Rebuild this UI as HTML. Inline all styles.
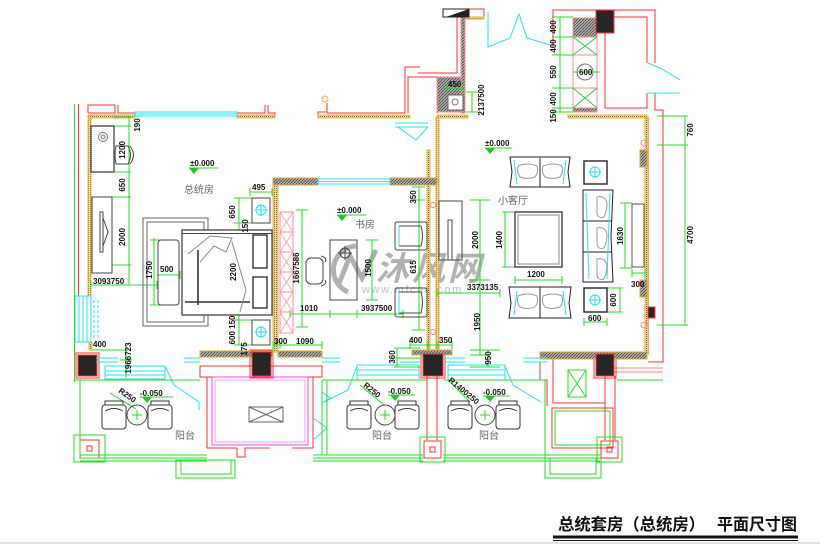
<!DOCTYPE html>
<html><head><meta charset="utf-8"><style>
html,body{margin:0;padding:0;background:#fff;width:820px;height:544px;overflow:hidden}
svg{display:block}
text{font-family:"Liberation Sans","Noto Sans CJK SC",sans-serif}
.d{font-size:8px;font-weight:bold;fill:#111}
.n{font-size:10px;fill:#666}
</style></head><body>
<svg width="820" height="544" viewBox="0 0 820 544" xmlns="http://www.w3.org/2000/svg">
<defs>
<pattern id="h" width="2" height="2" patternUnits="userSpaceOnUse"><rect width="2" height="2" fill="#ecd9a0"/><rect width="1" height="1" fill="#7a6a3a"/></pattern>
<pattern id="g" width="3" height="3" patternUnits="userSpaceOnUse"><rect width="3" height="3" fill="#b0b0b0"/><path d="M0,3L3,0" stroke="#333" stroke-width=".7"/></pattern>
</defs>
<rect x="0" y="542" width="820" height="2" fill="#e2e2e2"/>

<!-- watermark -->
<g opacity="0.75">
<path d="M348,292 A24,24 0 0 1 356,246" stroke="#999" stroke-width="5" fill="none"/>
<path d="M338,286 L350,256 L362,278 L376,250" stroke="#999" stroke-width="5" fill="none"/>
<text x="376" y="280" font-size="33" font-weight="bold" font-style="italic" fill="#999" letter-spacing="3">沐风网</text>
<text x="362" y="293" font-size="11" fill="#aaa" letter-spacing="1.6">www.mfcad.com</text>
</g>

<g fill="none" stroke-width="1">
<!-- ===== RED WALL LINES ===== -->
<g stroke="#ff3030">
<path d="M88,113V105H115V113H88M118,105V113H135M237,113H265V105M268,105V113H275V118"/>
<line x1="78.5" y1="104" x2="78.5" y2="296"/>
<path d="M318,118V112H327V103M327,113H405V67H420M408,113V77H437V113"/>
<path d="M418,73H457V17M463,17H484V9H469"/>
<path d="M553,47V10H655V63M655,93V110H663V362H648"/>
<path d="M614,17H647V63M647,93V108H605V33"/>
<path d="M553,17H573"/>
<path d="M614,368H663M614,372H663" stroke="#ff8080"/>
<line x1="648.5" y1="117" x2="648.5" y2="355" stroke="#ff9a9a"/>
<!-- balcony / storage -->
<path d="M427,376V440M437,376V440"/>
<rect x="553" y="358" width="52" height="45"/>
<rect x="552" y="408" width="61" height="40"/>
<path d="M540,362V380H547V406M605,376V440M615,376V440"/>
<rect x="200" y="366" width="122" height="11"/>
<path d="M207,377V448H237V457H245V448H270M292,448H313V377"/>
<rect x="80" y="440" width="19" height="18"/><rect x="87" y="446" width="5" height="5"/>
<rect x="424" y="441" width="17" height="17"/><rect x="430" y="447" width="5" height="5"/>
<rect x="601" y="441" width="17" height="17"/><rect x="607" y="447" width="5" height="5"/>
<rect x="76" y="353" width="23" height="25"/>
<rect x="250" y="350" width="23" height="28"/>
<rect x="421" y="352" width="24" height="26"/>
<rect x="594" y="352" width="22" height="26"/>
</g>
<rect x="212" y="377" width="96" height="68" stroke="#ff40ff"/>
<rect x="215" y="380" width="90" height="62" stroke="#ff9aff"/>

<!-- ===== YELLOW HATCHED WALLS ===== -->
<g stroke="#f0b030" fill="url(#h)">
<rect x="88" y="115" width="47" height="3"/>
<rect x="237" y="115" width="38" height="3"/>
<rect x="88" y="115" width="3" height="181"/>
<rect x="89" y="342" width="3" height="8"/>
<rect x="273" y="178" width="5" height="174"/>
<rect x="427" y="150" width="3" height="202"/>
<rect x="436" y="117" width="3" height="235"/>
<rect x="437" y="115" width="31" height="3"/>
<rect x="568" y="115" width="79" height="3"/>
<rect x="645" y="117" width="3" height="236"/>
<rect x="318" y="115" width="92" height="3"/>
<rect x="463" y="17" width="21" height="2"/>
</g>
<!-- gray hatched walls -->
<g stroke="#e0a830" fill="url(#g)">
<rect x="273" y="178" width="45" height="7"/>
<rect x="390" y="178" width="47" height="7"/>
<rect x="200" y="351" width="73" height="6"/>
<rect x="278" y="351" width="44" height="6"/>
<rect x="412" y="350" width="40" height="5"/>
<rect x="540" y="352" width="107" height="7"/>
<rect x="640" y="150" width="7" height="17"/>
<rect x="640" y="280" width="7" height="17"/>
</g>
<g stroke="#f88" fill="url(#g)">
<rect x="437" y="77" width="26" height="35"/>
<rect x="461" y="17" width="4" height="96"/>
<rect x="573" y="18" width="24" height="19"/>
<rect x="573" y="108" width="24" height="4"/>
</g>
<rect x="448" y="95" width="15" height="15" fill="#fff" stroke="#666"/>
<circle cx="455" cy="102" r="3" stroke="#777"/>

<!-- black columns -->
<g fill="#262626" stroke="#ff3030">
<rect x="78" y="355" width="19" height="21"/>
<rect x="252" y="352" width="19" height="24"/>
<rect x="423" y="354" width="20" height="22"/>
<rect x="596" y="354" width="18" height="22"/>
<rect x="596" y="10" width="18" height="23"/>
<rect x="648" y="307" width="7" height="11"/>
</g>
<rect x="443" y="9" width="26" height="8" fill="#fff" stroke="#222"/>
<polygon points="446,17 469,9 469,17" fill="#222"/>

<!-- kitchen cabinet column -->
<g stroke="#f88">
<rect x="573" y="37" width="24" height="71"/>
<line x1="573" y1="55" x2="597" y2="55"/><line x1="573" y1="88" x2="597" y2="88"/>
</g>
<g stroke="#3c3">
<path d="M573,37L597,55M597,37L573,55M573,88L597,108M597,88L573,108"/>
</g>
<circle cx="585" cy="72" r="8" stroke="#777"/>

<!-- ===== CYAN ===== -->
<g stroke="#25e3ef">
<rect x="135" y="112" width="102" height="4"/><line x1="135" y1="114" x2="237" y2="114"/>
<rect x="318" y="179" width="72" height="5"/><line x1="318" y1="181.5" x2="390" y2="181.5"/>
<rect x="75" y="296" width="16" height="46"/>
<path d="M79,296V342M83,296V342M87,296V342"/>
<path d="M94,300V340M98,300V340" stroke-dasharray="3,2"/>
<rect x="105" y="366" width="60" height="13"/><path d="M105,371H165M105,375H165"/>
<rect x="357" y="365" width="62" height="15"/><path d="M357,370H419M357,375H419"/>
<rect x="448" y="365" width="57" height="15"/><path d="M448,370H505M448,375H505"/>
<path d="M165,366L174,385L199,402V410"/>
<path d="M357,366L348,390L324,402"/>
<path d="M505,366L513,385L541,402"/>
<path d="M96,358H118M96,362H118M184,358H200M184,362H200M322,358H340M322,362H340M400,358H421M400,362H421M445,358H465M445,362H465M523,358H547M523,362H547"/>
<path d="M488,12V47L510,38L519,14L527,38L553,46"/>
<path d="M648,63L662,69L680,80M648,93H680"/>
<path d="M395,123H428M395,127H428M398,127L416,140L428,127"/>
<path d="M313,418L327,428L313,440"/>
<path d="M322,392L330,398L322,403" />
</g>

<!-- ===== GREEN (balcony outlines) ===== -->
<g stroke="#22e022">
<line x1="74.5" y1="104" x2="74.5" y2="382"/>
<path d="M74,380H200M322,380H427M443,380H545M617,380H663"/>
<path d="M80,380V455M322,380V455M327,380V455M545,380V460"/>
<path d="M80,455H207M80,458H207M80,461H207M313,455H423M313,458H423M313,461H423M443,455H600M443,458H600M443,461H600"/>
<rect x="176" y="460" width="59" height="18"/><rect x="181" y="460" width="50" height="14"/>
<rect x="545" y="458" width="56" height="20"/><rect x="550" y="458" width="46" height="16"/>
<rect x="74" y="435" width="31" height="27"/>
<rect x="420" y="437" width="25" height="25"/>
<rect x="597" y="437" width="25" height="25"/>
<rect x="555" y="411" width="55" height="34"/>
<rect x="568" y="370" width="18" height="27"/><path d="M568,370L586,397M586,370L568,397"/>
</g>

<!-- ===== DIMENSION LINES ===== -->
<g stroke="#1ee01e">
<path d="M129,117V285M114,117H131M114,126H131M114,172H131M112,197H131M112,265H131"/>
<path d="M91,285H157M91,281V289M157,281V289"/>
<path d="M154,238V305M150,240H162M150,305H162"/>
<path d="M158,275H180M158,271V279M180,271V279"/>
<path d="M239,198V345M234,198H252M234,223H252M234,230H252M234,315H252M234,320H252M234,345H252"/>
<path d="M250,192H272M250,188V196M272,188V196"/>
<path d="M92,350H128M126,345V378M120,360H132"/>
<path d="M302,210V327M296,210H308M296,327H308"/>
<path d="M290,314H403M290,310V318M330,310V318M357,310V318M403,310V318"/>
<path d="M372,240V300M366,240H378M366,300H378"/>
<path d="M419,187V330M412,187H425M412,200H425M412,330H425"/>
<path d="M273,345H322M273,341V349M280,341V349M322,341V349"/>
<path d="M410,345H452M410,341V349M428,341V349M437,341V349M452,341V349"/>
<path d="M397,348V367M394,348H420M394,358H420M394,367H420"/>
<path d="M488,350V367M470,350H500M470,367H500"/>
<path d="M480,200V355M470,200H490M470,280H490M470,355H490"/>
<path d="M437,293H500M437,289V297M500,289V297"/>
<path d="M505,212V267M502,212H515M502,267H515"/>
<path d="M515,280H562M515,276V284M562,276V284"/>
<path d="M625,203V268M620,203H632M620,268H632"/>
<path d="M632,273H645M632,269V277M645,269V277"/>
<path d="M620,288V312M607,288H623M607,312H623"/>
<path d="M584,322H607M584,318V326M607,318V326"/>
<path d="M685,116V325M657,116H688M657,145H688M657,325H688"/>
<path d="M560,17V112M552,17H573M552,37H573M552,55H573M552,88H573M552,108H573M552,112H573M573,72H600"/>
<path d="M447,88H463M447,84V92M463,84V92M472,92V112M466,92H478M466,112H478"/>
<path d="M189,168H218M337,215H366M485,148H512M140,397H173M388,395H415M483,396H510"/>
<path d="M110,393L136,409M360,385L384,405M448,380L470,402"/>
</g>
<g fill="#1ec81e" stroke="none">
<polygon points="189,168 199,168 194,174"/>
<polygon points="337,215 347,215 342,221"/>
<polygon points="485,148 495,148 490,154"/>
<polygon points="142,397 152,397 147,403"/>
<polygon points="390,395 400,395 395,401"/>
<polygon points="485,396 495,396 490,402"/>
</g>

<!-- ===== FURNITURE ===== -->
<g stroke="#444">
<!-- bedroom -->
<rect x="91" y="126" width="23" height="46" stroke-width="1.3"/>
<circle cx="103" cy="137" r="4.5" stroke="#777"/><circle cx="103" cy="137" r="2" stroke="#777"/>
<path d="M116,146Q114,155 116,164H128Q133,155 128,146Z"/><path d="M130,146Q137,155 130,164"/>
<rect x="92" y="197" width="20" height="76"/>
<rect x="100" y="212" width="3" height="40"/><path d="M103,218L108,232L103,246"/>
<rect x="143" y="218" width="65" height="108" stroke="#666"/>
<rect x="147" y="222" width="57" height="100" stroke="#666"/>
<rect x="182" y="230" width="90" height="85" stroke-width="1.3" fill="#fff"/>
<line x1="182" y1="233.5" x2="272" y2="233.5"/>
<rect x="253" y="235" width="14" height="33" stroke="#222" stroke-width="1.3"/>
<rect x="253" y="277" width="14" height="31" stroke="#222" stroke-width="1.3"/>
<path d="M185,302H250M198,250V305" stroke="#333" stroke-width="1.6"/>
<path d="M188,254L210,236L232,238L226,252L214,246L200,262" stroke="#888"/>
<path d="M232,242L246,290L240,312" stroke="#888"/>
<rect x="158" y="240" width="21" height="65" rx="3"/>
<rect x="252" y="198" width="18" height="25"/>
<rect x="252" y="320" width="18" height="25"/>
<!-- study -->
<rect x="280" y="212" width="13" height="121" stroke="#f88"/>
<path d="M280,232H293M280,252H293M280,272H293M280,292H293M280,312H293" stroke="#f88"/>
<path d="M280,212L293,232M293,212L280,232M280,232L293,252M293,232L280,252M280,252L293,272M293,252L280,272M280,272L293,292M293,272L280,292M280,292L293,312M293,292L280,312M280,312L293,333M293,312L280,333" stroke="#f9a" stroke-width=".8"/>
<rect x="330" y="240" width="27" height="60"/>
<circle cx="345" cy="253" r="5"/><path d="M338,253H352M345,246V260"/>
<rect x="306" y="258" width="17" height="26" rx="5"/>
<path d="M321,256Q328,258 325,262M321,286Q328,284 325,280"/>
<rect x="395" y="222" width="32" height="28" rx="2"/>
<path d="M399,226H421Q424,236 421,246H399"/>
<rect x="395" y="288" width="32" height="29" rx="2"/>
<path d="M399,292H421Q424,302 421,313H399"/>
<!-- living left TV -->
<rect x="439" y="201" width="23" height="59"/>
<rect x="448" y="220" width="4" height="40"/>
<!-- living -->
<path d="M510,157H570L568,172L570,187H510L512,172Z" stroke="#222"/>
<line x1="540" y1="158" x2="540" y2="187" stroke="#222"/>
<path d="M509,318H571L569,303L571,287H509L511,303Z" stroke="#222"/>
<line x1="540" y1="287" x2="540" y2="318" stroke="#222"/>
<path d="M583,190V282H613L611,236L613,190Z" stroke="#222"/>
<path d="M583,221H612M583,252H612" stroke="#222"/>
<rect x="584" y="161" width="23" height="23" stroke="#333" stroke-width="1.5"/>
<rect x="584" y="288" width="23" height="24" stroke="#333" stroke-width="1.5"/>
<rect x="515" y="212" width="47" height="55" stroke="#333" stroke-width="1.3"/>
<rect x="518" y="215" width="41" height="49" stroke="#888"/>
<rect x="632" y="204" width="12" height="63" stroke="#555"/>
<!-- balcony chairs -->
<g stroke="#333">
<rect x="102" y="405" width="24" height="24" rx="3"/><path d="M105,405V401H123V405M105,411Q114,406 123,411"/>
<rect x="148" y="405" width="24" height="24" rx="3"/><path d="M151,405V401H169V405M151,411Q160,406 169,411"/>
<rect x="347" y="405" width="24" height="24" rx="3"/><path d="M350,405V401H368V405M350,411Q359,406 368,411"/>
<rect x="395" y="405" width="24" height="24" rx="3"/><path d="M398,405V401H416V405M398,411Q407,406 416,411"/>
<rect x="448" y="405" width="24" height="24" rx="3"/><path d="M451,405V401H469V405M451,411Q460,406 469,411"/>
<rect x="496" y="405" width="24" height="24" rx="3"/><path d="M499,405V401H517V405M499,411Q508,406 517,411"/>
</g>
<circle cx="137" cy="415" r="10"/><circle cx="385" cy="415" r="10"/><circle cx="485" cy="415" r="10"/>
<rect x="249" y="407" width="34" height="15" stroke="#666"/><path d="M249,407L283,422M283,407L249,422" stroke="#666"/>
</g>
<!-- cyan details on furniture -->
<g stroke="#25e3ef">
<circle cx="261" cy="210" r="5"/><path d="M255,210H267M261,204V216"/>
<circle cx="261" cy="332" r="5"/><path d="M255,332H267M261,326V338"/>
<circle cx="595" cy="172" r="5"/><path d="M589,172H601M595,166V178"/>
<circle cx="595" cy="300" r="5"/><path d="M589,300H601M595,294V306"/>
<path d="M514,160L517,184M566,160L563,184M514,315L517,291M566,315L563,291M586,193L589,279M610,193L607,279"/>
<path d="M399,226V246M399,292V313"/>
</g>
<g stroke="#1ee01e"><path d="M132,415H142M137,410V420M380,415H390M385,410V420M480,415H490M485,410V420"/></g>
<g stroke="#999">
<path d="M518,166q10,-4 19,0q2,6 -2,11q-8,3 -15,0q-4,-5 -2,-11z"/>
<path d="M543,166q10,-4 19,0q2,6 -2,11q-8,3 -15,0q-4,-5 -2,-11z"/>
<path d="M518,296q10,-4 19,0q2,6 -2,11q-8,3 -15,0q-4,-5 -2,-11z"/>
<path d="M543,296q10,-4 19,0q2,6 -2,11q-8,3 -15,0q-4,-5 -2,-11z"/>
<path d="M597,197q8,-2 10,6q0,8 -3,14q-6,2 -7,-4z"/>
<path d="M597,228q8,-2 10,6q0,8 -3,14q-6,2 -7,-4z"/>
<path d="M597,259q8,-2 10,6q0,8 -3,14q-6,2 -7,-4z"/>
</g>
<g stroke="#f88"><circle cx="644" cy="143" r="3"/><circle cx="644" cy="325" r="3"/><circle cx="433" cy="205" r="2.5"/><circle cx="433" cy="332" r="2.5"/></g>
<circle cx="325" cy="99" r="3" stroke="#f0b030"/>
</g>

<!-- ===== TEXT ===== -->
<g class="d">
<text x="190" y="166">±0.000</text>
<text x="337" y="213">±0.000</text>
<text x="485" y="146">±0.000</text>
<text x="140" y="396">-0.050</text>
<text x="388" y="394">-0.050</text>
<text x="483" y="395">-0.050</text>
<text transform="translate(118,392) rotate(35)">R250</text>
<text transform="translate(363,386) rotate(40)">R250</text>
<text transform="translate(448,381) rotate(40)">R1400250</text>
<text x="93" y="284">3093750</text>
<text x="160" y="272">500</text>
<text x="252" y="190">495</text>
<text x="93" y="347">400</text>
<text x="300" y="311">1010</text>
<text x="361" y="311">3937500</text>
<text x="274" y="344">300</text>
<text x="296" y="344">1090</text>
<text x="409" y="343">400</text>
<text x="439" y="343">350</text>
<text x="527" y="277">1200</text>
<text x="467" y="290">3373135</text>
<text x="631" y="287">300</text>
<text x="588" y="321">600</text>
<text x="448" y="87">450</text>
<text transform="translate(140,125) rotate(-90)" text-anchor="middle">190</text>
<text transform="translate(125,150) rotate(-90)" text-anchor="middle">1200</text>
<text transform="translate(125,185) rotate(-90)" text-anchor="middle">650</text>
<text transform="translate(125,237) rotate(-90)" text-anchor="middle">2000</text>
<text transform="translate(152,270) rotate(-90)" text-anchor="middle">1750</text>
<text transform="translate(236,272) rotate(-90)" text-anchor="middle">2200</text>
<text transform="translate(235,212) rotate(-90)" text-anchor="middle">650</text>
<text transform="translate(248,226) rotate(-90)" text-anchor="middle">150</text>
<text transform="translate(235,330) rotate(-90)" text-anchor="middle">600 150</text>
<text transform="translate(247,349) rotate(-90)" text-anchor="middle">175</text>
<text transform="translate(131,358) rotate(-90)" text-anchor="middle">1966723</text>
<text transform="translate(299,268) rotate(-90)" text-anchor="middle">1667586</text>
<text transform="translate(416,197) rotate(-90)" text-anchor="middle">350</text>
<text transform="translate(371,268) rotate(-90)" text-anchor="middle">1500</text>
<text transform="translate(416,267) rotate(-90)" text-anchor="middle">615</text>
<text transform="translate(395,357) rotate(-90)" text-anchor="middle">360</text>
<text transform="translate(491,358) rotate(-90)" text-anchor="middle">950</text>
<text transform="translate(478,240) rotate(-90)" text-anchor="middle">2000</text>
<text transform="translate(480,322) rotate(-90)" text-anchor="middle">1950</text>
<text transform="translate(502,240) rotate(-90)" text-anchor="middle">1400</text>
<text transform="translate(623,236) rotate(-90)" text-anchor="middle">1630</text>
<text transform="translate(616,300) rotate(-90)" text-anchor="middle">600</text>
<text transform="translate(693,130) rotate(-90)" text-anchor="middle">760</text>
<text transform="translate(693,235) rotate(-90)" text-anchor="middle">4700</text>
<text transform="translate(484,100) rotate(-90)" text-anchor="middle">2137500</text>
<text transform="translate(556,27) rotate(-90)" text-anchor="middle">400</text>
<text transform="translate(556,46) rotate(-90)" text-anchor="middle">400</text>
<text transform="translate(556,72) rotate(-90)" text-anchor="middle">550</text>
<text transform="translate(556,99) rotate(-90)" text-anchor="middle">400</text>
<text transform="translate(556,116) rotate(-90)" text-anchor="middle">150</text>
<text x="579" y="75">600</text>
</g>
<g class="n">
<text x="184" y="193">总统房</text>
<text x="355" y="228">书房</text>
<text x="498" y="204">小客厅</text>
<text x="175" y="439">阳台</text>
<text x="372" y="439">阳台</text>
<text x="479" y="439">阳台</text>
</g>

<!-- title -->
<text x="558" y="530" font-size="16.5" font-weight="bold" fill="#111" textLength="147" lengthAdjust="spacingAndGlyphs">总统套房（总统房）</text>
<text x="717" y="530" font-size="16.5" font-weight="bold" fill="#111" textLength="80" lengthAdjust="spacingAndGlyphs">平面尺寸图</text>
<rect x="553" y="535.5" width="245" height="3" fill="#111"/>
<rect x="553" y="540" width="245" height="1" fill="#111"/>
</svg>
</body></html>
